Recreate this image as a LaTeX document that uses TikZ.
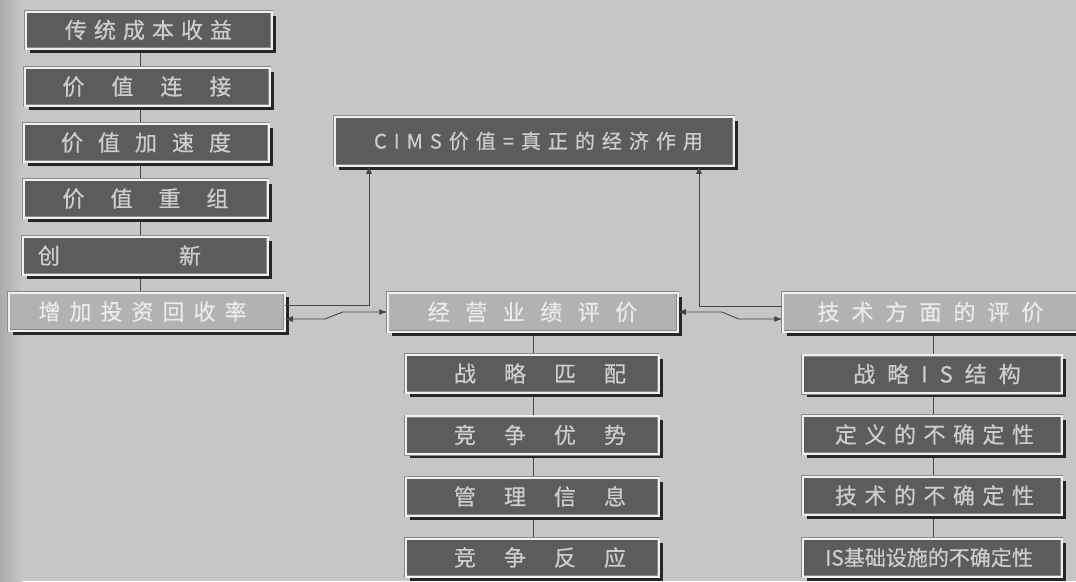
\documentclass[tikz,border=0pt]{standalone}
\usepackage{fontspec}
\setmainfont{Noto Sans CJK SC}
\newfontfamily\boxfont{Noto Sans CJK SC}[FakeBold=0.6]
\usetikzlibrary{arrows.meta,shadows,calc}
\definecolor{bgc}{RGB}{198,198,198}
\definecolor{bgdark}{RGB}{172,172,172}
\definecolor{darkbox}{RGB}{92,92,92}
\definecolor{lightbox}{RGB}{178,178,178}
\definecolor{darktxt}{RGB}{205,205,205}
\definecolor{lighttxt}{RGB}{234,234,234}
\definecolor{framec}{RGB}{240,240,240}
\definecolor{edgec}{RGB}{140,140,140}
\definecolor{linec}{RGB}{70,70,70}
\pgfdeclarelayer{bgfill}
\pgfdeclarelayer{background}
\pgfsetlayers{bgfill,background,main}
\newcommand\spr[2]{\def\sprgap{#1}\sprA#2\relax}
\def\sprA#1{#1\sprB}
\def\sprB#1{\ifx#1\relax\else\hspace*{\sprgap}#1\expandafter\sprB\fi}
\tikzset{
 bevel/.style={rectangle, inner sep=0pt, draw=edgec, line width=0.5pt, double=framec, double distance=2pt,
   drop shadow={shadow xshift=4pt, shadow yshift=-4pt, fill=black!85, opacity=1},
   font=\boxfont\fontsize{22}{22}\selectfont},
 darkb/.style={bevel, fill=darkbox, text=darktxt},
 lightb/.style={bevel, fill=lightbox, text=lighttxt},
 conn/.style={draw=linec, line width=0.9pt},
 arr/.style={conn, -{Latex[length=8pt,width=6pt]}},
 darr/.style={conn, {Latex[length=8pt,width=6pt]}-{Latex[length=8pt,width=6pt]}},
}
\begin{document}
\begin{tikzpicture}[x=1pt,y=-1pt]
\useasboundingbox (0,0) rectangle (1076,581);
\begin{pgfonlayer}{bgfill}
\fill[bgc] (0,0) rectangle (1076,581);
\shade[left color=bgdark, right color=bgc] (0,0) rectangle (22,581);
\end{pgfonlayer}
% left column
\node[darkb, minimum width=246pt, minimum height=37pt] (L1) at (148.5,30) {\spr{7pt}{传统成本收益}};
\node[darkb, minimum width=245pt, minimum height=38pt] (L2) at (147,86.5) {\spr{27pt}{价值连接}};
\node[darkb, minimum width=245pt, minimum height=38pt] (L3) at (146,142.5) {\spr{15pt}{价值加速度}};
\node[darkb, minimum width=244pt, minimum height=38pt] (L4) at (145.5,198.5) {\spr{26pt}{价值重组}};
\node[darkb, minimum width=245pt, minimum height=38pt] (L5) at (145,255.5) {创\hspace*{119pt}新\hspace*{51pt}};
\node[lightb, minimum width=276pt, minimum height=38pt] (L6) at (146.5,311.5) {\spr{9pt}{增加投资回收率}\hspace*{8pt}};
% title
\node[darkb, minimum width=399pt, minimum height=49pt, font=\boxfont\fontsize{20}{20}\selectfont] (T) at (534,141) {\hspace*{9pt}\spr{7pt}{CIMS价值=真正的经济作用}};
% middle column
\node[lightb, minimum width=290pt, minimum height=39pt] (M) at (532.5,312) {\spr{15.5pt}{经营业绩评价}};
\node[darkb, minimum width=253pt, minimum height=38pt] (M1) at (532,373.5) {\hspace*{16pt}\spr{28pt}{战略匹配}};
\node[darkb, minimum width=253pt, minimum height=38pt] (M2) at (532,435) {\hspace*{16pt}\spr{28pt}{竞争优势}};
\node[darkb, minimum width=253pt, minimum height=38pt] (M3) at (532,496.5) {\hspace*{16pt}\spr{28pt}{管理信息}};
\node[darkb, minimum width=253pt, minimum height=38pt] (M4) at (532,557.5) {\hspace*{16pt}\spr{28pt}{竞争反应}};
% right column
\node[lightb, minimum width=303pt, minimum height=39pt] (R) at (934,312) {\spr{12pt}{技术方面的评价}\hspace*{7pt}};
\node[darkb, minimum width=259pt, minimum height=38pt] (R1) at (932,374) {\hspace*{10pt}\spr{12pt}{战略IS结构}};
\node[darkb, minimum width=259pt, minimum height=38pt] (R2) at (932,434.5) {\hspace*{5pt}\spr{7.5pt}{定义的不确定性}};
\node[darkb, minimum width=259pt, minimum height=38pt] (R3) at (932,495.5) {\hspace*{5pt}\spr{7.5pt}{技术的不确定性}};
\node[darkb, minimum width=259pt, minimum height=38pt, font=\boxfont\fontsize{21}{21}\selectfont] (R4) at (932,557.5) {IS基础设施的不确定性\hspace*{6pt}};
% vertical connectors
\coordinate (lx) at (140,0);
\coordinate (mx) at (533,0);
\coordinate (rx) at (933,0);
\begin{pgfonlayer}{background}
\draw[conn] (L1.center -| lx) -- (L6.center -| lx);
\draw[conn] (M.center -| mx) -- (M4.center -| mx);
\draw[conn] (R.center -| rx) -- (R4.center -| rx);
\end{pgfonlayer}
% arrows
\draw[arr] ([yshift=6.5pt]L6.east) -| ([xshift=-165pt]T.south);
\draw[darr] ([yshift=-7.5pt]L6.east) -- ++(40,0) -- ++(18,-7) -- (M.west);
\draw[darr] (M.east) -- ++(44,0) -- ++(17,7) -- ([yshift=-7pt]R.west);
\draw[arr] ([yshift=6pt]R.west) -| ([xshift=165pt]T.south);
\end{tikzpicture}
\end{document}
